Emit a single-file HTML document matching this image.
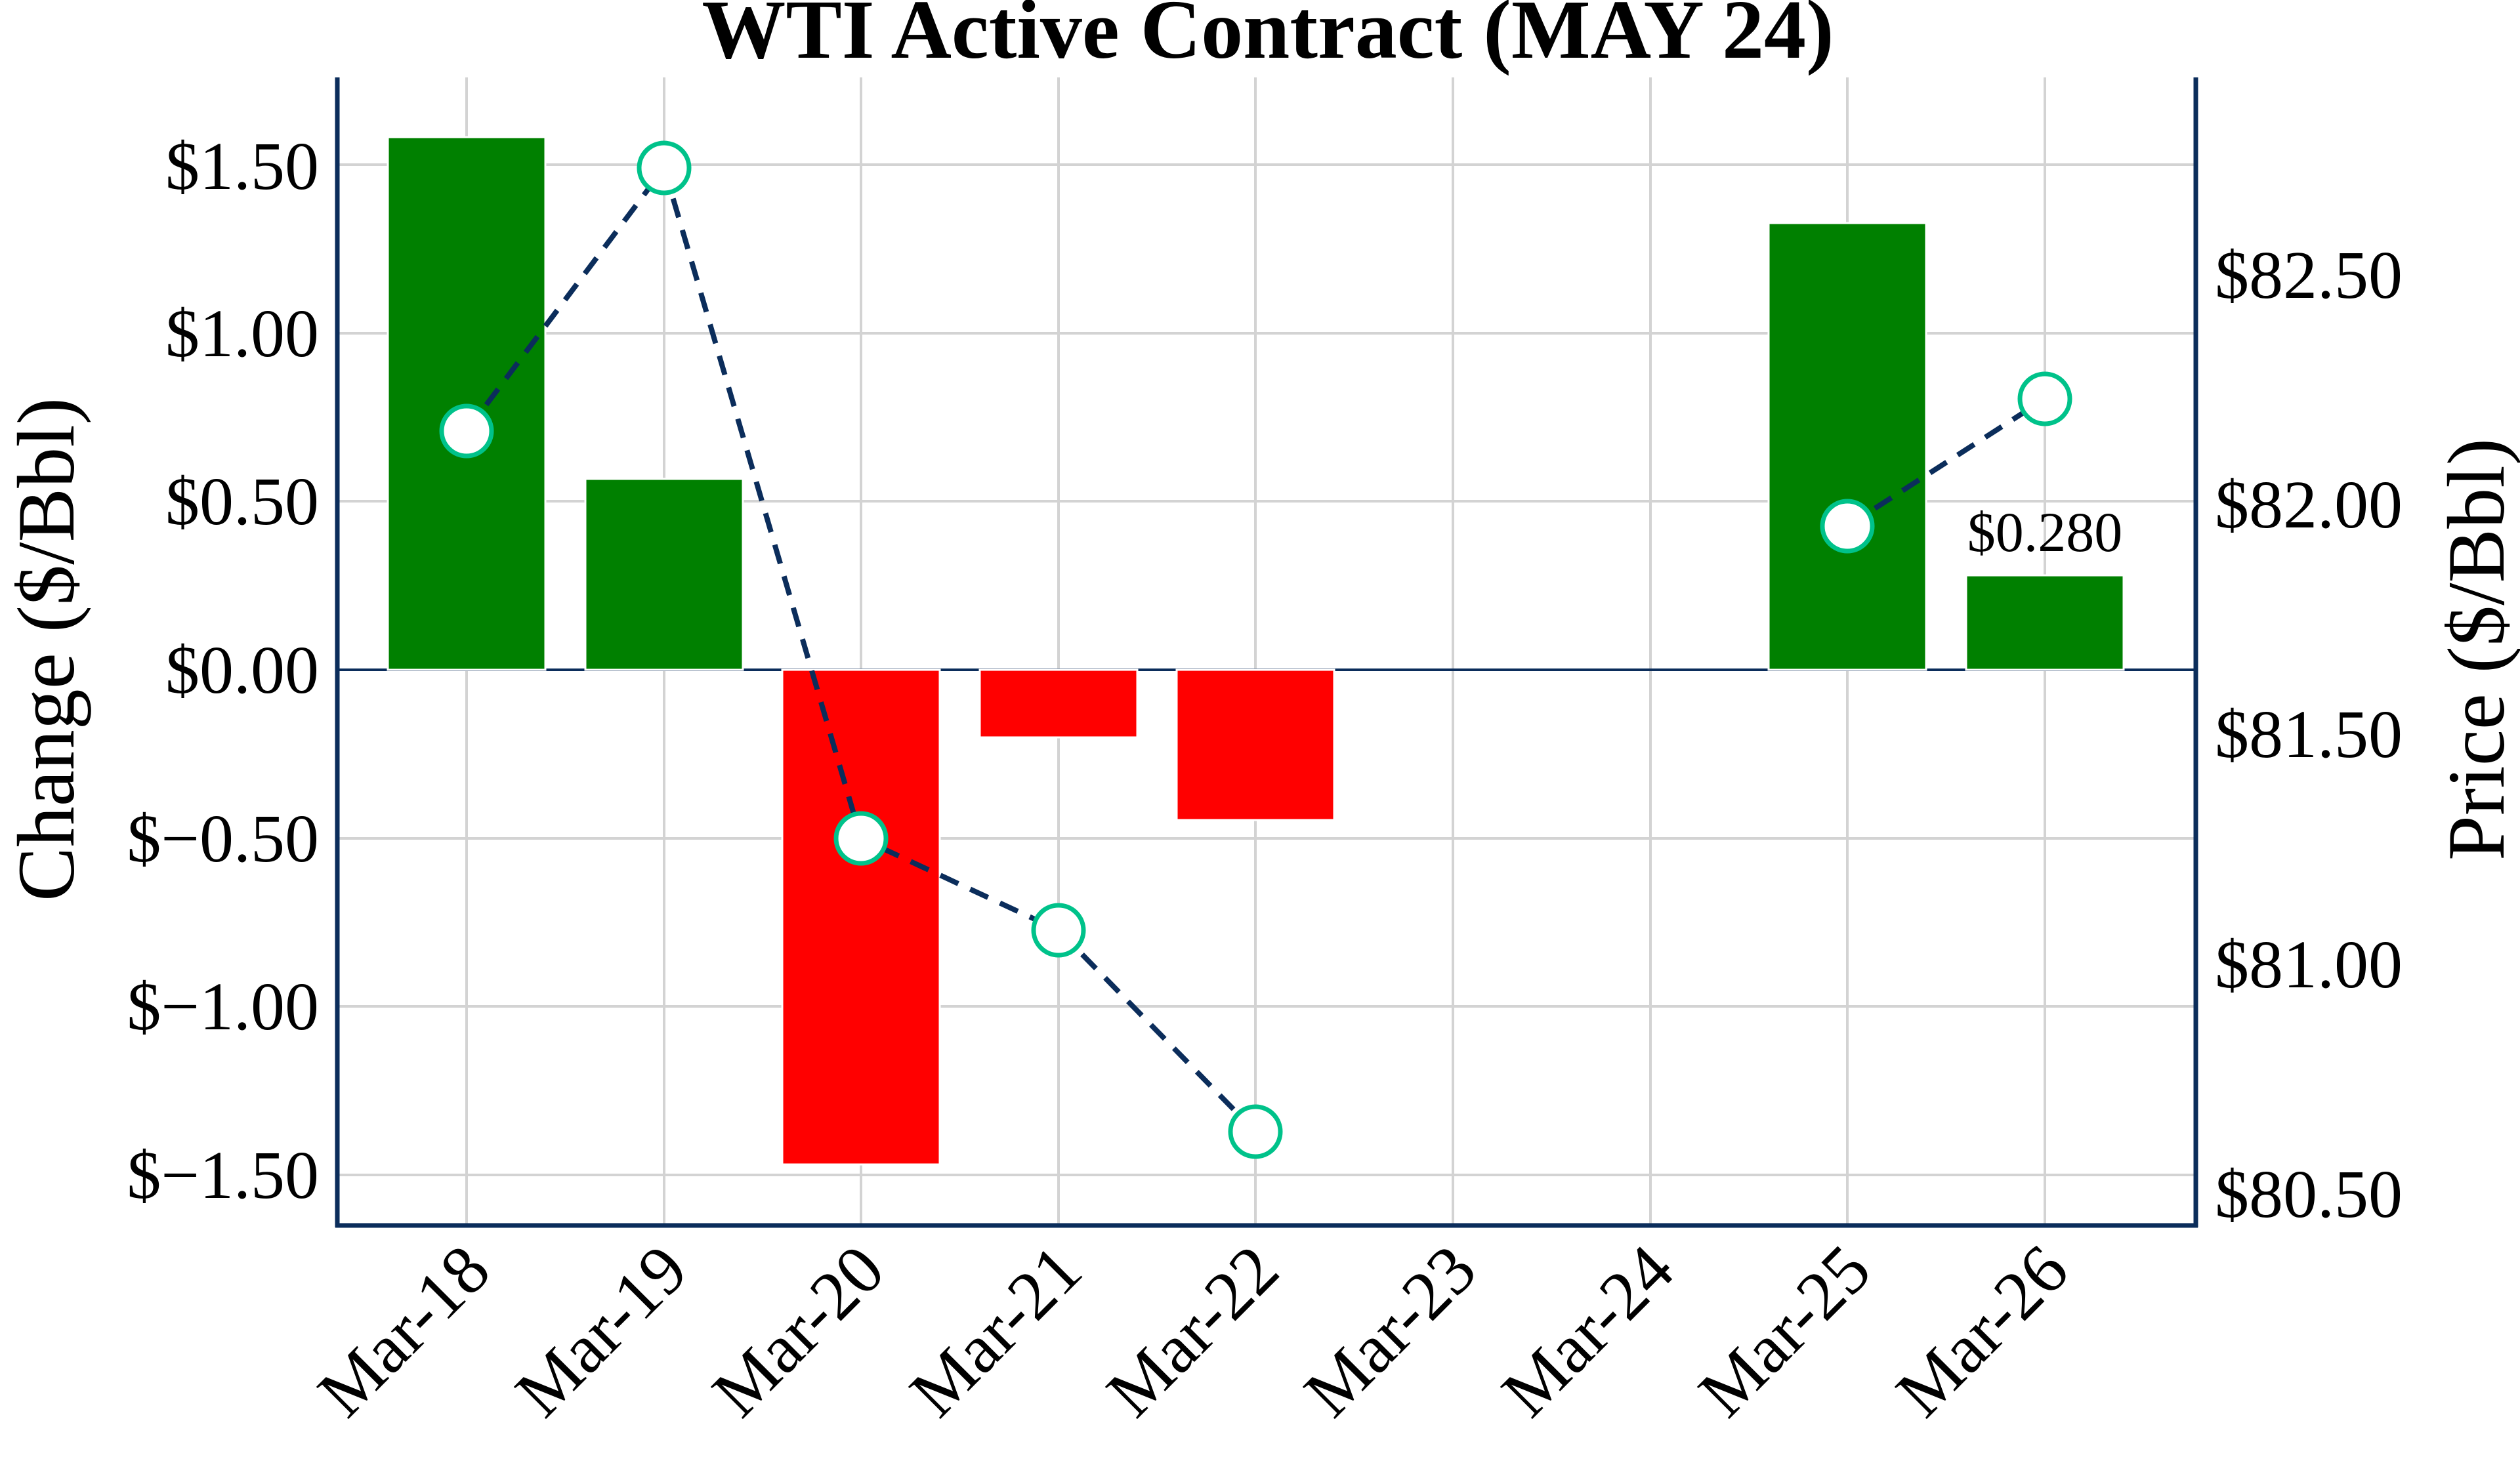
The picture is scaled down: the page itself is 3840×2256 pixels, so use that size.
<!DOCTYPE html>
<html><head><meta charset="utf-8"><style>html,body{margin:0;padding:0;background:#fff}svg{display:block}</style></head>
<body>
<svg width="3840" height="2256" viewBox="0 0 3840 2256" xmlns="http://www.w3.org/2000/svg" font-family="'Liberation Serif', serif">
<rect width="3840" height="2256" fill="#fff"/>
<g stroke="#d3d3d3" stroke-width="4">
<line x1="514" x2="3346" y1="251" y2="251"/>
<line x1="514" x2="3346" y1="508" y2="508"/>
<line x1="514" x2="3346" y1="764" y2="764"/>
<line x1="514" x2="3346" y1="1278" y2="1278"/>
<line x1="514" x2="3346" y1="1534" y2="1534"/>
<line x1="514" x2="3346" y1="1791" y2="1791"/>
<line x1="711" x2="711" y1="118" y2="1868"/>
<line x1="1012" x2="1012" y1="118" y2="1868"/>
<line x1="1312" x2="1312" y1="118" y2="1868"/>
<line x1="1613" x2="1613" y1="118" y2="1868"/>
<line x1="1913" x2="1913" y1="118" y2="1868"/>
<line x1="2214" x2="2214" y1="118" y2="1868"/>
<line x1="2515" x2="2515" y1="118" y2="1868"/>
<line x1="2815" x2="2815" y1="118" y2="1868"/>
<line x1="3116" x2="3116" y1="118" y2="1868"/>
</g>
<line x1="514" x2="3346" y1="1021" y2="1021" stroke="#0b2d5b" stroke-width="4"/>
<g stroke="#fff" stroke-width="3">
<rect x="591" y="209" width="240" height="812" fill="#008000"/>
<rect x="892" y="730" width="240" height="291" fill="#008000"/>
<rect x="1192" y="1021" width="240" height="754" fill="#ff0000"/>
<rect x="1493" y="1021" width="240" height="103" fill="#ff0000"/>
<rect x="1793" y="1021" width="240" height="229" fill="#ff0000"/>
<rect x="2695" y="340" width="240" height="681" fill="#008000"/>
<rect x="2996" y="877" width="240" height="144" fill="#008000"/>
</g>
<polyline points="711,657 1012,256 1312,1278 1613,1418 1913,1725" fill="none" stroke="#0b2d5b" stroke-width="8" stroke-dasharray="30,20"/>
<polyline points="2815,802 3116,608" fill="none" stroke="#0b2d5b" stroke-width="8" stroke-dasharray="30,20"/>
<g fill="#fff" stroke="#00c28a" stroke-width="7">
<circle cx="711" cy="657" r="38"/>
<circle cx="1012" cy="256" r="38"/>
<circle cx="1312" cy="1278" r="38"/>
<circle cx="1613" cy="1418" r="38"/>
<circle cx="1913" cy="1725" r="38"/>
<circle cx="2815" cy="802" r="38"/>
<circle cx="3116" cy="608" r="38"/>
</g>
<g stroke="#0b2d5b" stroke-width="7" fill="none">
<line x1="514" y1="118" x2="514" y2="1871"/>
<line x1="3346" y1="118" x2="3346" y2="1871"/>
<line x1="511" y1="1868" x2="3349" y2="1868"/>
</g>
<text x="3116" y="840" font-size="86" text-anchor="middle">$0.280</text>
<text x="1932" y="88" font-size="128" font-weight="bold" text-anchor="middle">WTI Active Contract (MAY 24)</text>
<g font-size="104" text-anchor="end">
<text x="486" y="288">$1.50</text>
<text x="486" y="543">$1.00</text>
<text x="486" y="799">$0.50</text>
<text x="486" y="1056">$0.00</text>
<text x="486" y="1313">$−0.50</text>
<text x="486" y="1569">$−1.00</text>
<text x="486" y="1826">$−1.50</text>
</g>
<g font-size="104">
<text x="3375" y="454">$82.50</text>
<text x="3375" y="804">$82.00</text>
<text x="3375" y="1154">$81.50</text>
<text x="3375" y="1505">$81.00</text>
<text x="3375" y="1855">$80.50</text>
</g>
<text transform="translate(112,990) rotate(-90)" font-size="124" text-anchor="middle">Change ($/Bbl)</text>
<text transform="translate(3815,990) rotate(-90)" font-size="124" text-anchor="middle">Price ($/Bbl)</text>
<g font-size="106" text-anchor="end">
<text transform="translate(752,1942) rotate(-45)">Mar-18</text>
<text transform="translate(1053,1942) rotate(-45)">Mar-19</text>
<text transform="translate(1353,1942) rotate(-45)">Mar-20</text>
<text transform="translate(1654,1942) rotate(-45)">Mar-21</text>
<text transform="translate(1954,1942) rotate(-45)">Mar-22</text>
<text transform="translate(2255,1942) rotate(-45)">Mar-23</text>
<text transform="translate(2556,1942) rotate(-45)">Mar-24</text>
<text transform="translate(2856,1942) rotate(-45)">Mar-25</text>
<text transform="translate(3157,1942) rotate(-45)">Mar-26</text>
</g>
</svg>
</body></html>
